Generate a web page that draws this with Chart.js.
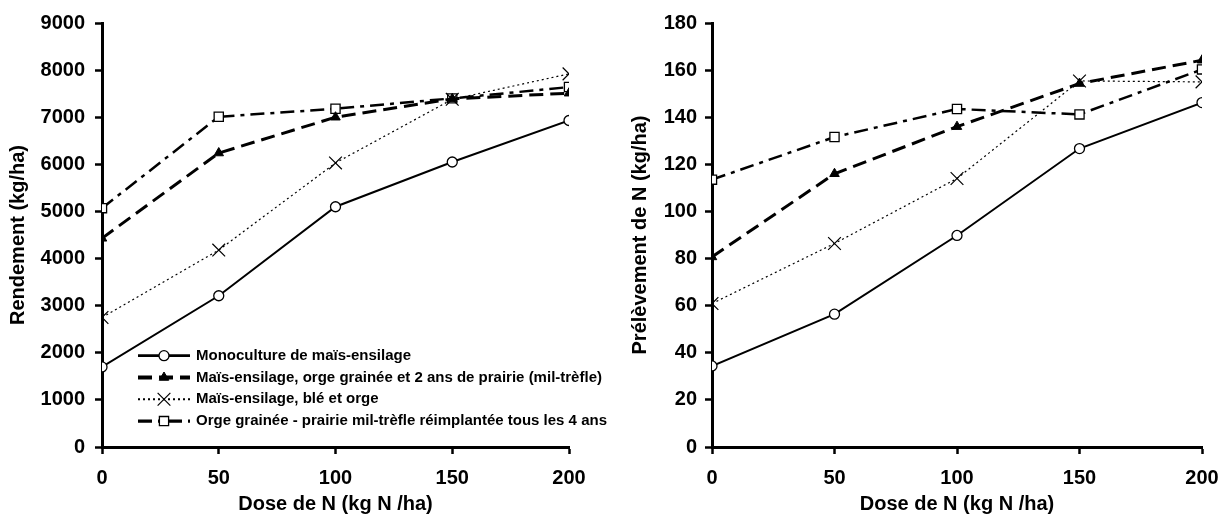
<!DOCTYPE html>
<html>
<head>
<meta charset="utf-8">
<script src="https://cdn.jsdelivr.net/npm/chart.js@4.4.0/dist/chart.umd.min.js"></script>
<style>
  html, body { margin: 0; padding: 0; background: #fff; }
  #wrap { position: relative; width: 1223px; height: 514px; }
  canvas { position: absolute; top: 0; }
  #rendement { left: 0; }
  #prelevement { left: 611px; }
</style>
</head>
<body>
<div id="wrap">
  <canvas id="rendement" width="611" height="514"></canvas>
  <canvas id="prelevement" width="612" height="514"></canvas>
</div>
<script>
// doses d'azote (kg N/ha)
const doses = [0, 50, 100, 150, 200];

const rotations = [
  'Monoculture de maïs-ensilage',
  'Maïs-ensilage, orge grainée et 2 ans de prairie (mil-trèfle)',
  'Maïs-ensilage, blé et orge',
  'Orge grainée - prairie mil-trèfle réimplantée tous les 4 ans'
];

// rendement (kg/ha)
const rendMonoculture = [1700, 3210, 5100, 6050, 6930];
const rendPrairie2ans = [4430, 6240, 7000, 7390, 7510];
const rendBleOrge     = [2750, 4180, 6030, 7380, 7920];
const rendPrairie4ans = [5070, 7010, 7180, 7400, 7640];

// prélèvement de N (kg/ha)
const prelMonoculture = [34.4, 56.4, 89.8, 126.7, 146.2];
const prelPrairie2ans = [80.7, 116, 136, 154.3, 164.2];
const prelBleOrge     = [60.9, 86.4, 114, 155.4, 155];
const prelPrairie4ans = [113.5, 131.6, 143.5, 141.2, 160.3];

const FONT = '"Liberation Sans", Arial, sans-serif';

// one look per rotation: line pattern + marker
const looks = [
  { borderWidth: 2,   borderDash: [],            pointStyle: 'circle',   pointRadius: 5,   pointBackgroundColor: '#fff', pointBorderWidth: 1.3 },
  { borderWidth: 3,   borderDash: [14, 7],       pointStyle: 'triangle', pointRadius: 5.5, pointBackgroundColor: '#000', pointBorderWidth: 1 },
  { borderWidth: 1.2, borderDash: [2, 3],        pointStyle: 'crossRot', pointRadius: 9,   pointBackgroundColor: '#000', pointBorderWidth: 1.2 },
  { borderWidth: 2.5, borderDash: [14, 6, 4, 6], pointStyle: 'rect',     pointRadius: 6.5, pointBackgroundColor: '#fff', pointBorderWidth: 1.3 }
];

function makeDatasets(series) {
  return series.map((values, i) => Object.assign({
    label: rotations[i],
    data: doses.map((d, k) => ({ x: d, y: values[k] })),
    borderColor: '#000',
    pointBorderColor: '#000',
    pointHoverRadius: looks[i].pointRadius,
    fill: false,
    tension: 0
  }, looks[i]));
}

// legend drawn inside the plot, bottom left
const inlineLegend = {
  id: 'inlineLegend',
  afterDatasetsDraw(chart, args, opts) {
    if (!opts.display) return;
    const { ctx, chartArea } = chart;
    const x0 = chartArea.left + 36;
    const x1 = chartArea.left + 88;
    chart.data.datasets.forEach((ds, i) => {
      const y = chartArea.bottom - 91.3 + i * 21.8;
      ctx.save();
      ctx.strokeStyle = '#000';
      ctx.lineWidth = ds.borderWidth + 0.8;
      ctx.setLineDash(ds.borderDash);
      ctx.beginPath();
      ctx.moveTo(x0, y);
      ctx.lineTo(x1, y);
      ctx.stroke();
      ctx.setLineDash([]);
      ctx.fillStyle = ds.pointBackgroundColor;
      ctx.lineWidth = ds.pointBorderWidth;
      Chart.helpers.drawPoint(ctx, {
        pointStyle: ds.pointStyle, radius: ds.pointRadius,
        borderWidth: ds.pointBorderWidth, rotation: 0
      }, (x0 + x1) / 2, y);
      ctx.fillStyle = '#000';
      ctx.font = 'bold 15px ' + FONT;
      ctx.textBaseline = 'middle';
      ctx.textAlign = 'left';
      ctx.fillText(ds.label, x1 + 6, y);
      ctx.restore();
    });
  }
};

function makeOptions(yMax, yStep, yTitle, yWidth, titlePad, labelPad, rightPad, legend) {
  const tickFont = { family: FONT, size: 20, weight: 'bold' };
  return {
    responsive: false,
    animation: false,
    layout: { padding: { top: 23, right: rightPad, bottom: 0, left: 0 } },
    plugins: {
      legend: { display: false },
      tooltip: { enabled: false },
      inlineLegend: { display: legend }
    },
    scales: {
      x: {
        type: 'linear',
        min: 0,
        max: 200,
        // fixed height; the end labels may hang into the side margins
        afterFit: s => { s.height = 67; s.paddingLeft = 0; s.paddingRight = 0; },
        border: { color: '#000', width: 3 },
        grid: { drawOnChartArea: false, drawTicks: true, tickLength: 7, tickColor: '#000', tickWidth: 2.5 },
        ticks: { stepSize: 50, color: '#000', font: tickFont, padding: 12, maxRotation: 0 },
        title: {
          display: true, text: 'Dose de N (kg N /ha)', color: '#000',
          font: { family: FONT, size: 20, weight: 'bold', lineHeight: 1 },
          padding: 0
        }
      },
      y: {
        min: 0,
        max: yMax,
        afterFit: s => { s.width = yWidth; },
        border: { color: '#000', width: 3 },
        grid: { drawOnChartArea: false, drawTicks: true, tickLength: 7, tickColor: '#000', tickWidth: 2.5 },
        ticks: { stepSize: yStep, color: '#000', font: tickFont, padding: labelPad, callback: v => String(v) },
        title: {
          display: true, text: yTitle, color: '#000',
          font: { family: FONT, size: 20, weight: 'bold', lineHeight: 1.2 },
          padding: { top: titlePad, bottom: 0 }
        }
      }
    }
  };
}

new Chart(document.getElementById('rendement'), {
  type: 'line',
  data: { datasets: makeDatasets([rendMonoculture, rendPrairie2ans, rendBleOrge, rendPrairie4ans]) },
  options: makeOptions(9000, 1000, 'Rendement (kg/ha)', 102, 6, 10, 42, true),
  plugins: [inlineLegend]
});

new Chart(document.getElementById('prelevement'), {
  type: 'line',
  data: { datasets: makeDatasets([prelMonoculture, prelPrairie2ans, prelBleOrge, prelPrairie4ans]) },
  options: makeOptions(180, 20, 'Prélèvement de N (kg/ha)', 101, 17, 8, 21, false),
  plugins: [inlineLegend]
});
</script>
</body>
</html>
